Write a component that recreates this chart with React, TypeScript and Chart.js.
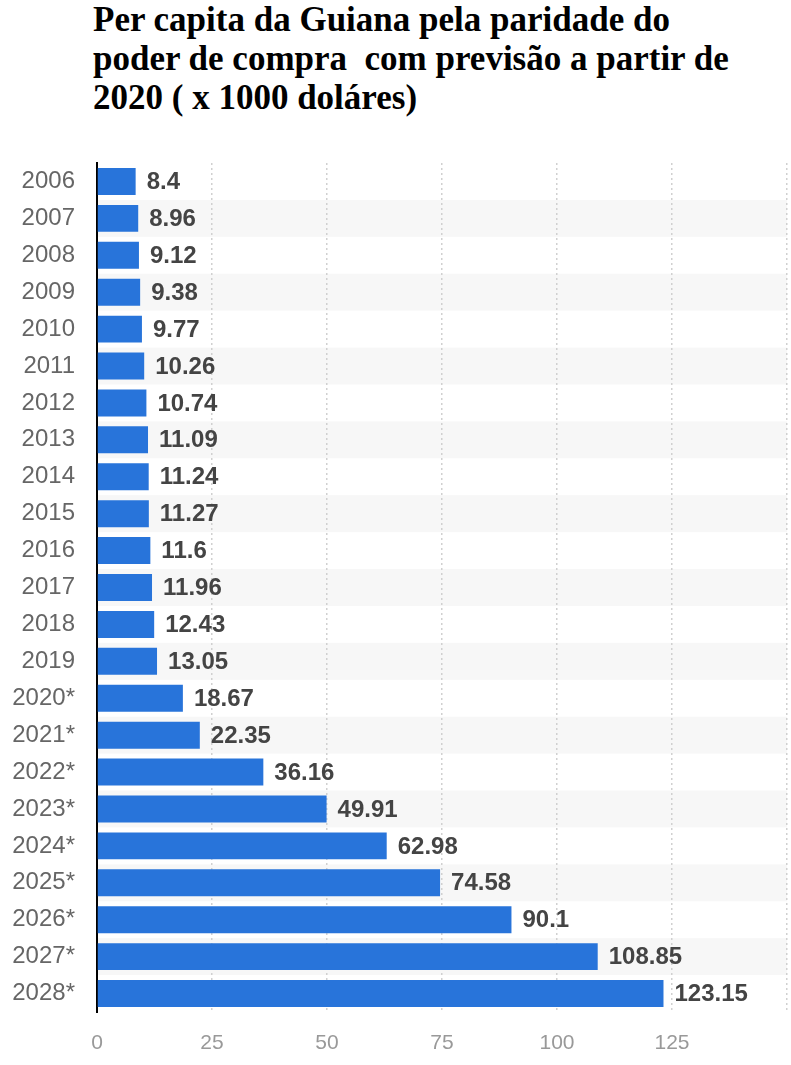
import React, { useEffect, useRef } from "react";
import { Chart, registerables } from "chart.js";

Chart.register(...registerables);

const titleLines = [
  "Per capita da Guiana pela paridade do",
  "poder de compra  com previsão a partir de",
  "2020 ( x 1000 doláres)",
];

const years = [
  "2006", "2007", "2008", "2009", "2010", "2011", "2012", "2013", "2014", "2015", "2016", "2017",
  "2018", "2019", "2020*", "2021*", "2022*", "2023*", "2024*", "2025*", "2026*", "2027*", "2028*",
];

const values = [
  8.4, 8.96, 9.12, 9.38, 9.77, 10.26, 10.74, 11.09, 11.24, 11.27, 11.6, 11.96,
  12.43, 13.05, 18.67, 22.35, 36.16, 49.91, 62.98, 74.58, 90.1, 108.85, 123.15,
];

const xMax = 150;
const xStep = 25;

const bandPlugin = {
  id: "bands",
  beforeDraw(chart: any) {
    const { ctx, chartArea, scales } = chart;
    const y = scales.y;
    const n = years.length;
    const h = (chartArea.bottom - chartArea.top) / n;
    ctx.save();
    ctx.fillStyle = "#f7f7f7";
    for (let i = 0; i < n; i++) {
      if (i % 2 === 1) {
        const c = y.getPixelForValue(i);
        ctx.fillRect(chartArea.left, c - h / 2, chartArea.right - chartArea.left, h);
      }
    }
    ctx.restore();
  },
};

const labelPlugin = {
  id: "valueLabels",
  afterDatasetsDraw(chart: any) {
    const { ctx } = chart;
    const meta = chart.getDatasetMeta(0);
    ctx.save();
    ctx.font = "bold 24px 'Liberation Sans', Arial, sans-serif";
    ctx.fillStyle = "#444444";
    ctx.textAlign = "left";
    ctx.textBaseline = "middle";
    meta.data.forEach((bar: any, i: number) => {
      ctx.fillText(String(values[i]), bar.x + 11, bar.y + 1);
    });
    ctx.restore();
  },
};

export default function App() {
  const canvasRef = useRef<HTMLCanvasElement | null>(null);

  useEffect(() => {
    if (!canvasRef.current) return;
    const chart = new Chart(canvasRef.current, {
      type: "bar",
      data: {
        labels: years,
        datasets: [
          {
            data: values,
            backgroundColor: "#2874da",
            barPercentage: 0.73,
            categoryPercentage: 1,
          },
        ],
      },
      options: {
        indexAxis: "y",
        animation: false,
        responsive: false,
        maintainAspectRatio: false,
        layout: { padding: { top: 23, right: 4, left: 0, bottom: 0 } },
        plugins: {
          legend: { display: false },
          tooltip: { enabled: false },
          title: { display: false },
        },
        scales: {
          x: {
            min: 0,
            max: xMax,
            afterFit(scale: any) {
              scale.height = 53;
              scale.paddingRight = 0;
              scale.paddingLeft = 0;
            },
            ticks: {
              stepSize: xStep,
              padding: 19,
              color: "#999999",
              font: { family: "'Liberation Sans', Arial, sans-serif", size: 21 },
              callback: (v: any) => (Number(v) >= xMax ? "" : String(v)),
              maxRotation: 0,
            },
            grid: {
              drawTicks: false,
              lineWidth: 1.5,
              color: (c: any) => (c.tick && c.tick.value === 0 ? "rgba(0,0,0,0)" : "#d0d0d0"),
            },
            border: { display: false, dash: [2, 3] },
          },
          y: {
            afterFit(scale: any) {
              scale.width = 97;
              scale.paddingTop = 0;
              scale.paddingBottom = 0;
            },
            ticks: {
              padding: 22,
              color: "#666666",
              font: { family: "'Liberation Sans', Arial, sans-serif", size: 24 },
            },
            grid: { display: false, drawTicks: false },
            border: { display: true, color: "#000000", width: 2 },
          },
        },
      },
      plugins: [bandPlugin, labelPlugin],
    });
    return () => chart.destroy();
  }, []);

  return (
    <div
      style={{
        position: "absolute",
        left: 0,
        top: 0,
        width: 791,
        height: 1065,
        background: "#ffffff",
        overflow: "hidden",
      }}
    >
      <div
        style={{
          position: "absolute",
          left: 93,
          top: 0,
          fontFamily: "'Liberation Serif', 'Times New Roman', serif",
          fontWeight: "bold",
          fontSize: 35,
          lineHeight: "39px",
          color: "#000",
          whiteSpace: "pre",
        }}
      >
        {titleLines.map((t, i) => (
          <div key={i}>{t}</div>
        ))}
      </div>
      <canvas
        ref={canvasRef}
        width={791}
        height={925}
        style={{ position: "absolute", left: 0, top: 140, width: 791, height: 925 }}
      />
    </div>
  );
}
